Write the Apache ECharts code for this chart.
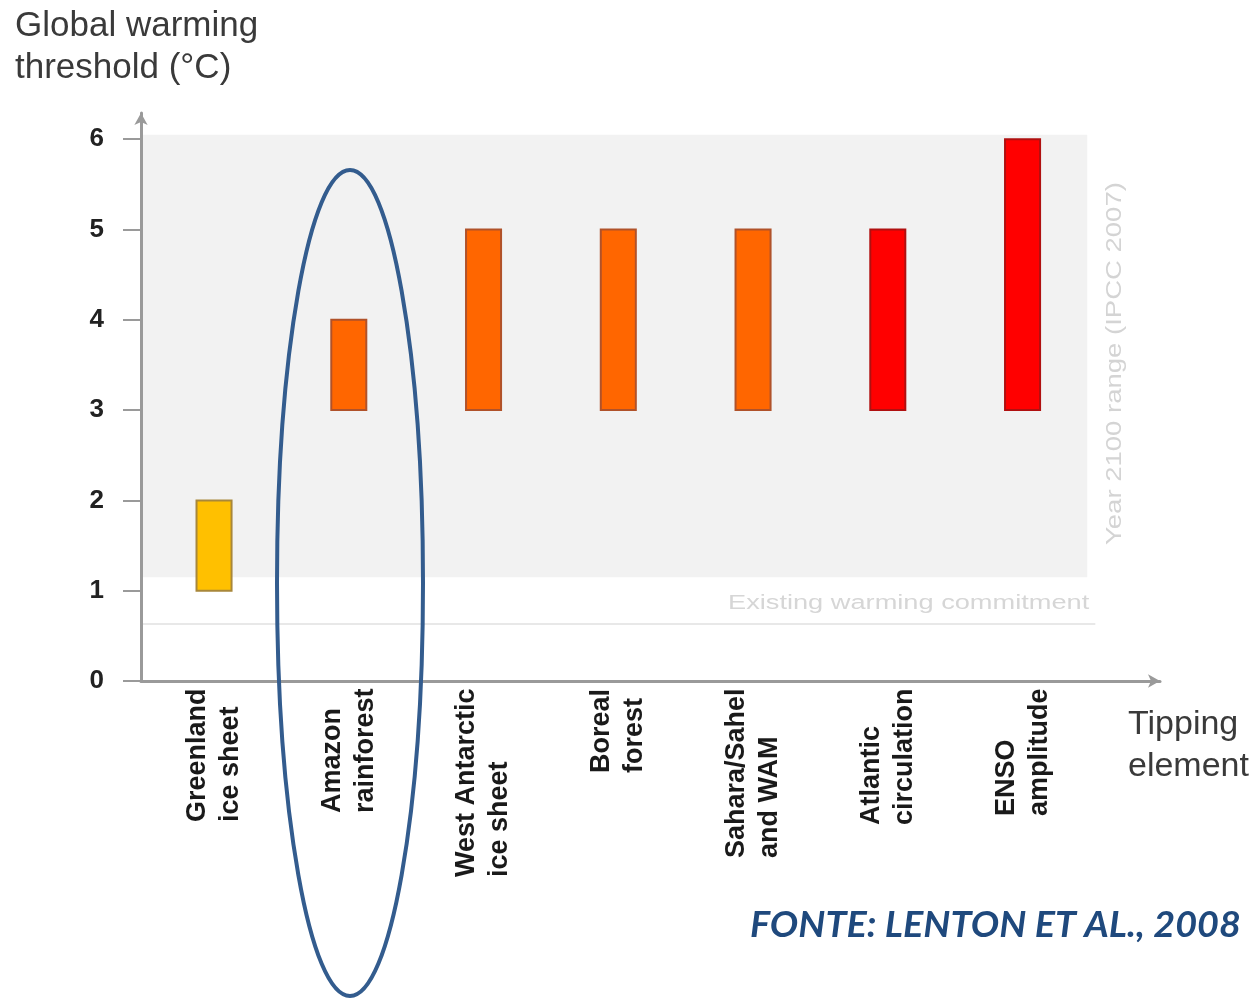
<!DOCTYPE html>
<html>
<head>
<meta charset="utf-8">
<script src="https://cdn.jsdelivr.net/npm/echarts@6/dist/echarts.min.js"></script>
<style>html,body{margin:0;padding:0;background:#fff;}#chart{width:1253px;height:998px;}</style>
</head>
<body>
<div id="chart"></div>
<script>
// ---- data ----
const categories = [
  ['Greenland', 'ice sheet'],
  ['Amazon', 'rainforest'],
  ['West Antarctic', 'ice sheet'],
  ['Boreal', 'forest'],
  ['Sahara/Sahel', 'and WAM'],
  ['Atlantic', 'circulation'],
  ['ENSO', 'amplitude']
];
const lows  = [1, 3, 3, 3, 3, 3, 3];
const highs = [2, 4, 5, 5, 5, 5, 6];
const yTicks = [0, 1, 2, 3, 4, 5, 6];
const ipccRange = [1.15, 6.05];      // Year 2100 range (IPCC 2007)
const commitment = [0.63];           // Existing warming commitment

// ---- styles ----
const fills   = ['#FFC000', '#FF6600', '#FF6600', '#FF6600', '#FF6600', '#FF0000', '#FF0000'];
const strokes = ['#A8873A', '#B0522A', '#B0522A', '#B0522A', '#B0522A', '#B01010', '#B01010'];
const FONT = '"Liberation Sans", Arial, sans-serif';
const labelSize = 27;

const ctx = document.createElement('canvas').getContext('2d');
ctx.font = 'bold ' + labelSize + 'px ' + FONT;
const rich = {};
categories.forEach((c, i) => {
  const w = Math.ceil(Math.max(...c.map(s => ctx.measureText(s).width)));
  rich['c' + i] = { width: w, align: 'left', fontSize: labelSize, fontWeight: 'bold', fontFamily: FONT, color: '#1a1a1a', lineHeight: 33 };
});

const chart = echarts.init(document.getElementById('chart'));
const barData = categories.map((c, i) => [i, lows[i], highs[i]]);

const option = {
  animation: false,
  backgroundColor: '#fff',
  grid: { left: 141, right: 93, top: 113, bottom: 317 },
  xAxis: {
    type: 'value', min: -0.542, max: 7.02,
    splitLine: { show: false },
    axisTick: { show: false },
    axisLine: { show: true, onZero: false, lineStyle: { color: '#9a9a9a', width: 3 }, symbol: ['none', 'arrow'], symbolSize: [10, 12] },
    axisLabel: {
      customValues: [0, 1, 2, 3, 4, 5, 6],
      rotate: 90, margin: 7,
      formatter: v => { const i = Math.round(v); const c = categories[i]; return c ? `{c${i}|${c[0]}}\n{c${i}|${c[1]}}` : ''; },
      rich: rich
    }
  },
  yAxis: {
    type: 'value', min: 0, max: 6.29,
    splitLine: { show: false },
    axisLine: { show: true, onZero: false, lineStyle: { color: '#9a9a9a', width: 3 }, symbol: ['none', 'arrow'], symbolSize: [10, 12] },
    axisTick: { show: true, customValues: yTicks, length: 18, lineStyle: { color: '#9a9a9a', width: 2 } },
    axisLabel: { customValues: yTicks, margin: 37, fontSize: 26, fontWeight: 'bold', fontFamily: FONT, color: '#222' }
  },
  series: [
    {
      type: 'custom', z: 1, silent: true,
      data: [[ipccRange[0], ipccRange[1]]],
      renderItem: (params, api) => {
        const cs = params.coordSys;
        const top = api.coord([0, api.value(1)])[1];
        const bot = api.coord([0, api.value(0)])[1];
        const right = api.coord([6.48, 0])[0];
        return { type: 'rect', shape: { x: cs.x + 2, y: top, width: right - cs.x - 2, height: bot - top }, style: { fill: '#F2F2F2' } };
      }
    },
    {
      type: 'custom', z: 2, silent: true,
      data: [commitment],
      renderItem: (params, api) => {
        const cs = params.coordSys;
        const y = api.coord([0, api.value(0)])[1];
        const right = api.coord([6.54, 0])[0];
        return { type: 'line', shape: { x1: cs.x + 2, y1: y, x2: right, y2: y }, style: { stroke: '#E8E8E8', lineWidth: 2 } };
      }
    },
    {
      type: 'custom', z: 3,
      data: barData,
      renderItem: (params, api) => {
        const i = api.value(0);
        const pTop = api.coord([i, api.value(2)]);
        const pBot = api.coord([i, api.value(1)]);
        const w = api.size([1, 0])[0] * 0.26;
        return { type: 'rect', shape: { x: pTop[0] - w / 2, y: pTop[1], width: w, height: pBot[1] - pTop[1] },
                 style: { fill: fills[params.dataIndex], stroke: strokes[params.dataIndex], lineWidth: 2 } };
      }
    }
  ],
  graphic: [
    { type: 'text', left: 15, top: 5, z: 10, style: { text: 'Global warming\nthreshold (°C)', font: '35px ' + FONT, lineHeight: 42, fill: '#3a3a3a' } },
    { type: 'text', left: 1128, top: 704, z: 10, style: { text: 'Tipping\nelement', font: '34px ' + FONT, lineHeight: 42, fill: '#3a3a3a' } },
    { type: 'text', x: 728, y: 603, scaleX: 1.36, z: 10, style: { text: 'Existing warming commitment', font: '20px ' + FONT, fill: '#D6D6D6', verticalAlign: 'middle', align: 'left' } },
    { type: 'text', x: 1115, y: 545, rotation: Math.PI / 2, scaleX: 1.25, z: 10, style: { text: 'Year 2100 range (IPCC 2007)', font: '22px ' + FONT, fill: '#D4D4D4', verticalAlign: 'middle', align: 'left' } },
    { type: 'ellipse', z: 20, shape: { cx: 350, cy: 583, rx: 73, ry: 413 }, style: { fill: 'none', stroke: '#335C8E', lineWidth: 4 } },
    { type: 'text', x: 750, y: 925, scaleX: 1.05, z: 10, style: { text: 'FONTE: LENTON ET AL., 2008', font: 'italic bold 36px Lato, "Liberation Sans", sans-serif', fill: '#1F497D', verticalAlign: 'middle', align: 'left' } }
  ]
};
chart.setOption(option);
</script>
</body>
</html>
